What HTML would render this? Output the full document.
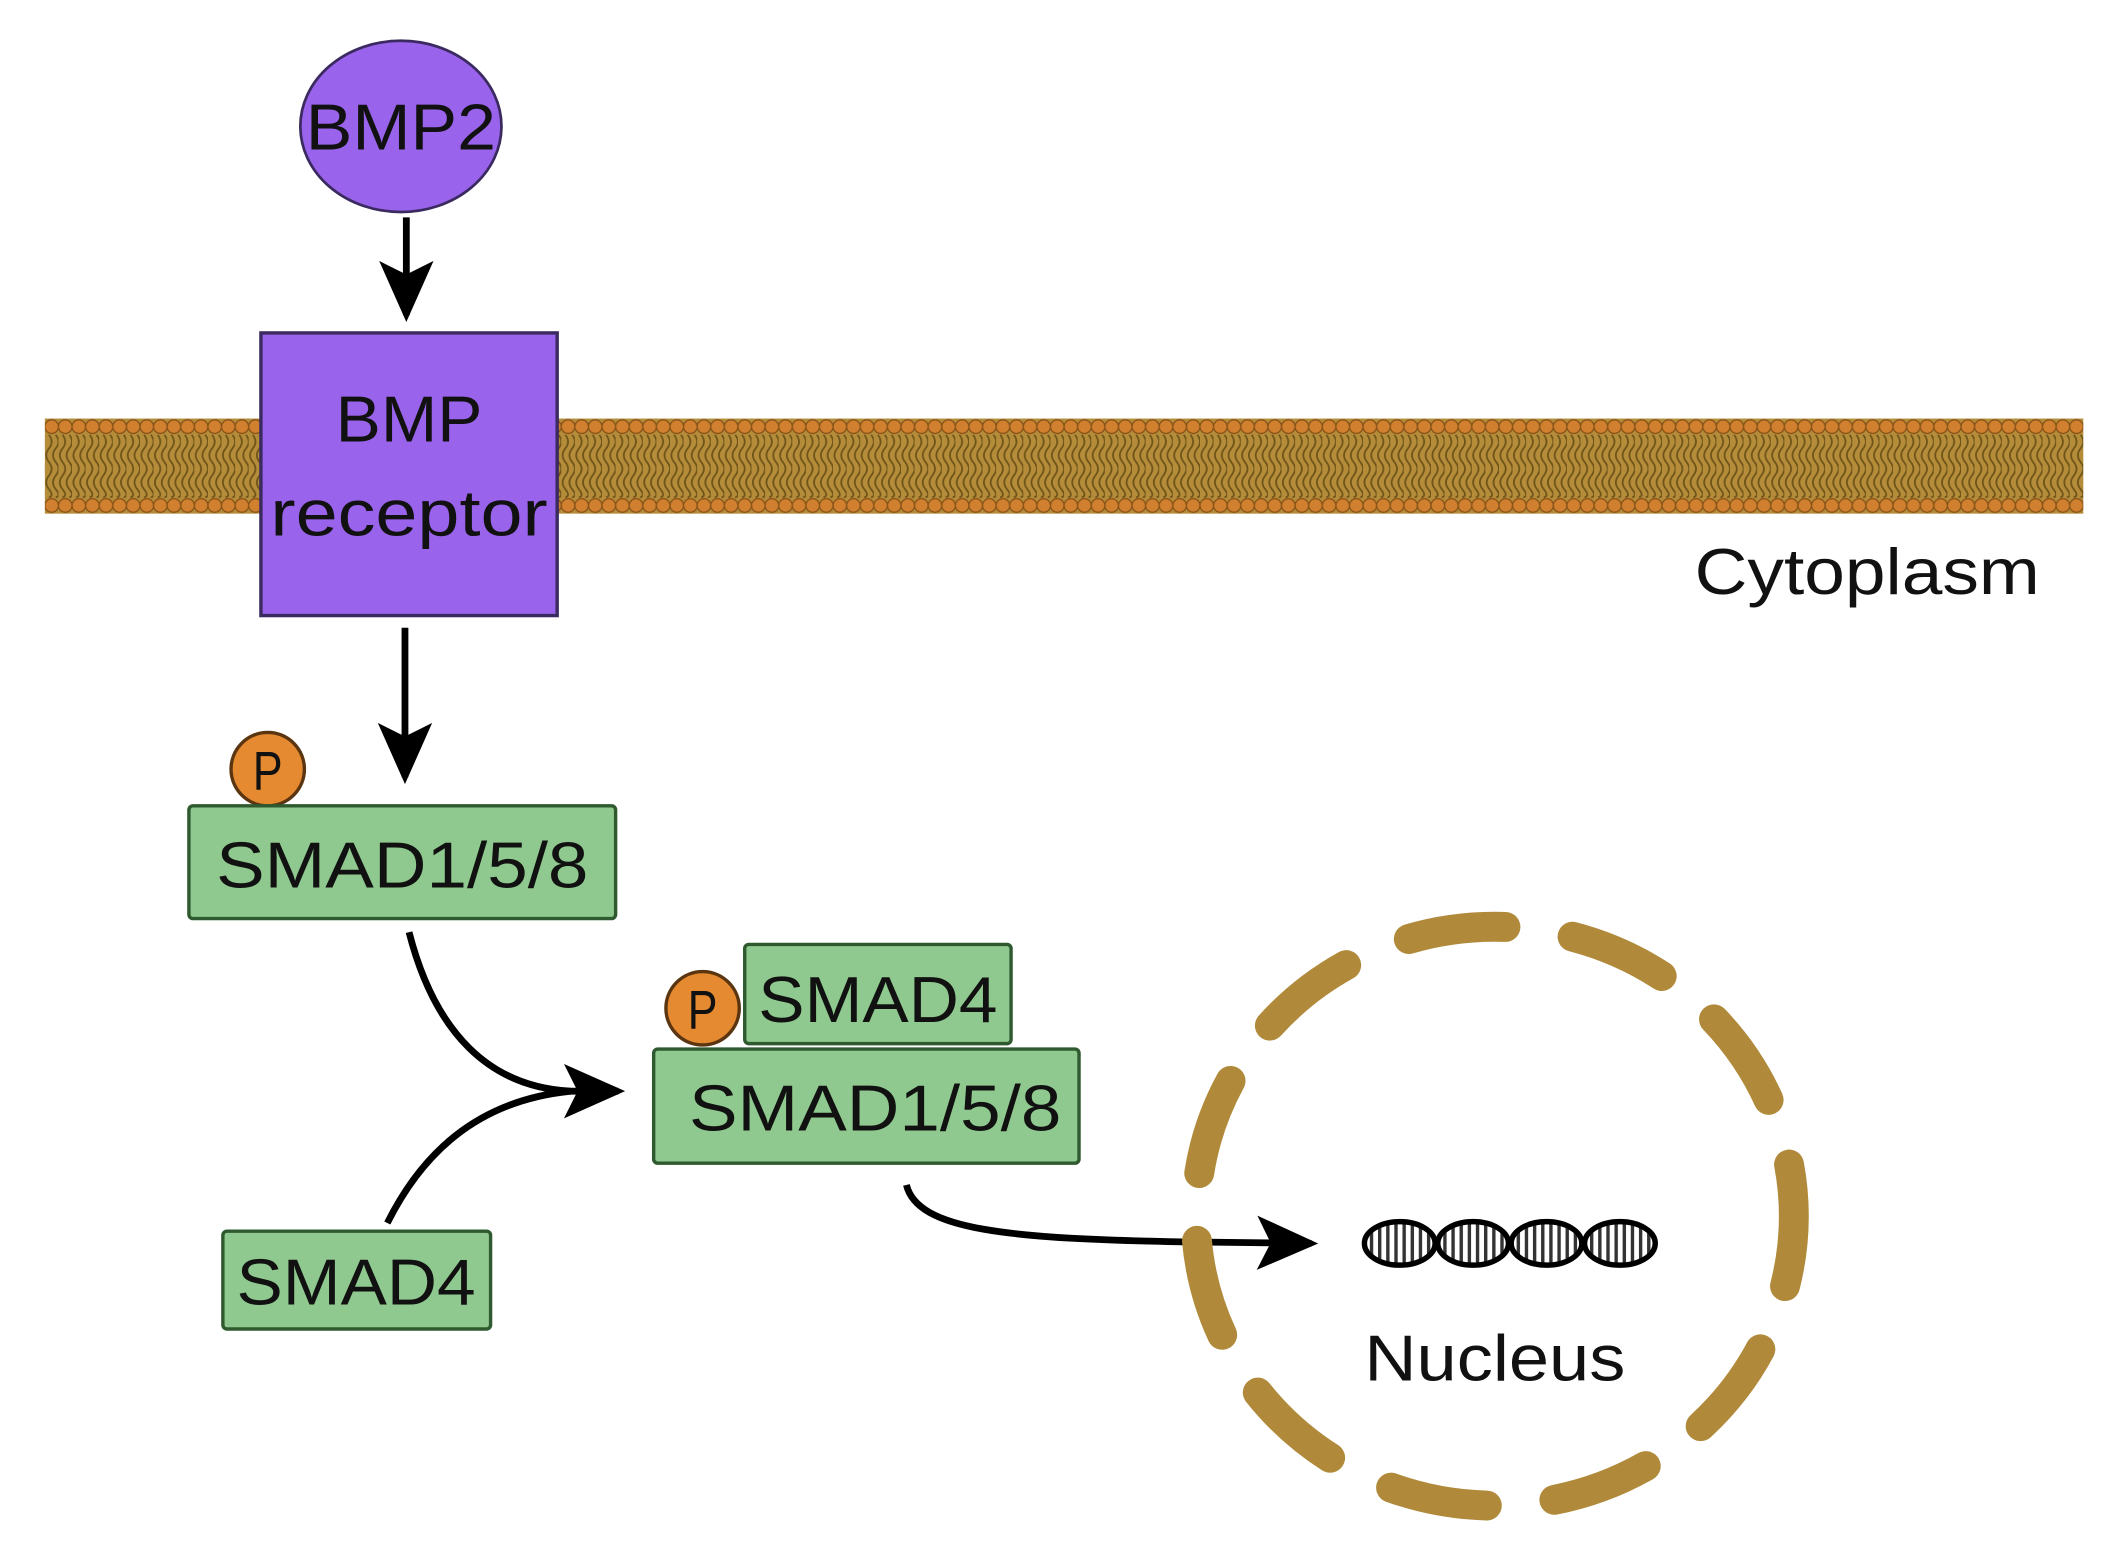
<!DOCTYPE html>
<html><head><meta charset="utf-8"><style>
html,body{margin:0;padding:0;background:#fff;}
svg{display:block;}
text{font-family:"Liberation Sans",sans-serif;fill:#111;}
</style></head><body>
<svg width="2120" height="1560" viewBox="0 0 1560 1148" preserveAspectRatio="none" xmlns="http://www.w3.org/2000/svg">
<defs>
<pattern id="mem" x="33" y="308" width="10" height="70" patternUnits="userSpaceOnUse">
<rect x="0" y="0" width="10" height="70" fill="#b58c3a"/>
<path d="M3 12 q4 5 0 10 q-4 5 0 10 q4 5 0 10 q-4 5 0 10 q4 5 0 6" stroke="#6e5418" stroke-width="1.3" fill="none"/>
<path d="M8 12 q4 5 0 10 q-4 5 0 10 q4 5 0 10 q-4 5 0 10 q4 5 0 6" stroke="#6e5418" stroke-width="1.3" fill="none"/>
<circle cx="5" cy="6" r="5" fill="#d0802e" stroke="#8a5418" stroke-width="1"/>
<circle cx="5" cy="64" r="5" fill="#d0802e" stroke="#8a5418" stroke-width="1"/>
</pattern>
<pattern id="hatch" width="6" height="10" patternUnits="userSpaceOnUse">
<rect width="6" height="10" fill="#fff"/><rect x="0" width="2.5" height="10" fill="#333"/>
</pattern>
<marker id="ah" markerWidth="10" markerHeight="10" refX="8" refY="5" orient="auto" markerUnits="strokeWidth">
<path d="M0 1 L9 5 L0 9 L2 5 Z" fill="#000"/>
</marker>
</defs>
<rect x="33" y="308" width="1500" height="70" fill="url(#mem)"/>
<ellipse cx="295" cy="93" rx="74" ry="63" fill="#9a63ec" stroke="#3a2a60" stroke-width="2"/>
<text x="295" y="110" font-size="48" text-anchor="middle" textLength="140" lengthAdjust="spacingAndGlyphs">BMP2</text>
<line x1="299" y1="160" x2="299" y2="232" stroke="#000" stroke-width="5" marker-end="url(#ah)"/>
<rect x="192" y="245" width="218" height="208" fill="#9a63ec" stroke="#3a2a60" stroke-width="2.5"/>
<text x="301" y="325" font-size="48" text-anchor="middle" textLength="108" lengthAdjust="spacingAndGlyphs">BMP</text>
<text x="301" y="394" font-size="48" text-anchor="middle" textLength="204" lengthAdjust="spacingAndGlyphs">receptor</text>
<text x="1247" y="437" font-size="48" textLength="254" lengthAdjust="spacingAndGlyphs">Cytoplasm</text>
<line x1="298" y1="462" x2="298" y2="572" stroke="#000" stroke-width="5" marker-end="url(#ah)"/>
<circle cx="197" cy="566" r="27" fill="#e58a30" stroke="#5a3510" stroke-width="2.5"/>
<text x="197" y="581" font-size="40" text-anchor="middle" textLength="22" lengthAdjust="spacingAndGlyphs">P</text>
<rect x="139" y="593" width="314" height="83" rx="3" fill="#8fc98f" stroke="#2f5a2f" stroke-width="2.5"/>
<text x="296" y="653" font-size="48" text-anchor="middle" textLength="274" lengthAdjust="spacingAndGlyphs">SMAD1/5/8</text>
<path d="M301 686 C320 760 360 800 420 803 L455 803" stroke="#000" stroke-width="5" fill="none" marker-end="url(#ah)"/>
<path d="M285 900 C310 850 350 810 420 803" stroke="#000" stroke-width="5" fill="none"/>
<rect x="164" y="906" width="197" height="72" rx="3" fill="#8fc98f" stroke="#2f5a2f" stroke-width="2.5"/>
<text x="262" y="960" font-size="48" text-anchor="middle" textLength="176" lengthAdjust="spacingAndGlyphs">SMAD4</text>
<rect x="548" y="695" width="196" height="73" rx="3" fill="#8fc98f" stroke="#2f5a2f" stroke-width="2.5"/>
<text x="646" y="752" font-size="48" text-anchor="middle" textLength="176" lengthAdjust="spacingAndGlyphs">SMAD4</text>
<rect x="481" y="772" width="313" height="84" rx="3" fill="#8fc98f" stroke="#2f5a2f" stroke-width="2.5"/>
<text x="644" y="832" font-size="48" text-anchor="middle" textLength="274" lengthAdjust="spacingAndGlyphs">SMAD1/5/8</text>
<circle cx="517" cy="742" r="27" fill="#e58a30" stroke="#5a3510" stroke-width="2.5"/>
<text x="517" y="757" font-size="40" text-anchor="middle" textLength="22" lengthAdjust="spacingAndGlyphs">P</text>
<path d="M667 872 C675 905 740 912 880 914 L965 915" stroke="#000" stroke-width="5" fill="none" marker-end="url(#ah)"/>
<ellipse cx="1100" cy="895" rx="220" ry="213" fill="none" stroke="#b08a3a" stroke-width="22" stroke-linecap="round" stroke-dasharray="72 50" stroke-dashoffset="20"/>
<g stroke="#000" stroke-width="4" fill="url(#hatch)">
<ellipse cx="1030" cy="915" rx="26" ry="16"/>
<ellipse cx="1084" cy="915" rx="26" ry="16"/>
<ellipse cx="1138" cy="915" rx="26" ry="16"/>
<ellipse cx="1192" cy="915" rx="26" ry="16"/>
</g>
<text x="1100" y="1016" font-size="48" text-anchor="middle" textLength="192" lengthAdjust="spacingAndGlyphs">Nucleus</text>
</svg>
</body></html>
